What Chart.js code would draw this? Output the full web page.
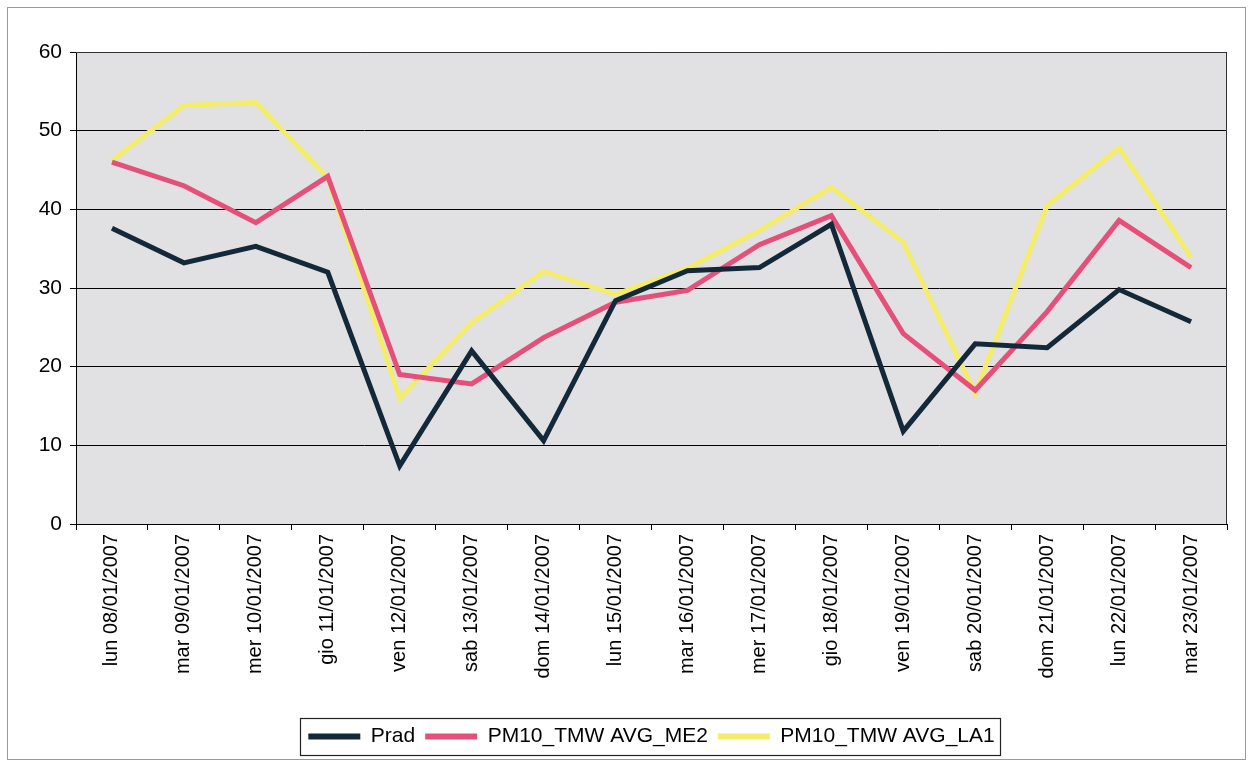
<!DOCTYPE html>
<html>
<head>
<meta charset="utf-8">
<script src="https://cdn.jsdelivr.net/npm/chart.js@4/dist/chart.umd.min.js"></script>
<style>
  html, body { margin: 0; padding: 0; background: #ffffff; }
  #wrap { width: 1255px; height: 765px; position: relative; }
</style>
</head>
<body>
<div id="wrap"><canvas id="c" width="1255" height="765"></canvas></div>
<script>
const categories = [
  "lun 08/01/2007", "mar 09/01/2007", "mer 10/01/2007", "gio 11/01/2007",
  "ven 12/01/2007", "sab 13/01/2007", "dom 14/01/2007", "lun 15/01/2007",
  "mar 16/01/2007", "mer 17/01/2007", "gio 18/01/2007", "ven 19/01/2007",
  "sab 20/01/2007", "dom 21/01/2007", "lun 22/01/2007", "mar 23/01/2007"
];
const prad = [37.6, 33.2, 35.3, 32.0, 7.4, 22.0, 10.6, 28.4, 32.2, 32.6, 38.1, 11.8, 22.9, 22.4, 29.8, 25.7];
const me2  = [46.0, 43.0, 38.3, 44.2, 19.0, 17.8, 23.7, 28.2, 29.7, 35.5, 39.2, 24.2, 17.0, 27.0, 38.6, 32.6];
const la1  = [46.2, 53.2, 53.6, 44.0, 16.0, 25.6, 32.1, 29.2, 32.5, 37.3, 42.8, 35.8, 16.6, 40.5, 47.8, 33.9];
const seriesNames = ["Prad", "PM10_TMW AVG_ME2", "PM10_TMW AVG_LA1"];
const seriesColors = ["#13293a", "#e4507a", "#f4ec6c"];
const yTicks = { min: 0, max: 60, step: 10 };

const FONT = "'Liberation Sans', Arial, sans-serif";

const decor = {
  id: 'decor',
  beforeDraw(chart) {
    const { ctx, chartArea: a } = chart;
    ctx.save();
    ctx.fillStyle = '#e1e0e3';
    ctx.fillRect(a.left, a.top, a.right - a.left, a.bottom - a.top);
    ctx.strokeStyle = '#9a9a9a';
    ctx.lineWidth = 1;
    ctx.strokeRect(7.5, 7.5, 1238, 752);
    ctx.restore();
  },
  afterDatasetsDraw(chart) {
    const { ctx, chartArea: a } = chart;
    ctx.save();
    ctx.strokeStyle = '#333';
    ctx.lineWidth = 1;
    ctx.beginPath();
    ctx.moveTo(a.left, a.top + 0.5);
    ctx.lineTo(a.right - 0.5, a.top + 0.5);
    ctx.lineTo(a.right - 0.5, a.bottom);
    ctx.stroke();
    ctx.restore();
  },
  afterDraw(chart) {
    const lg = chart.legend;
    if (!lg || !lg.legendHitBoxes || !lg.legendHitBoxes.length) return;
    const hb = lg.legendHitBoxes;
    const left = hb[0].left - 8;
    const right = hb[hb.length - 1].left + hb[hb.length - 1].width + 6;
    const top = Math.min(...hb.map(h => h.top)) - 8;
    const bottom = Math.max(...hb.map(h => h.top + h.height)) + 8;
    const ctx = chart.ctx;
    ctx.save();
    ctx.strokeStyle = '#222';
    ctx.lineWidth = 1.2;
    ctx.strokeRect(Math.round(left) + 0.5, Math.round(top) + 0.5, Math.round(right - left), Math.round(bottom - top));
    ctx.restore();
  }
};

const datasets = [prad, me2, la1].map((d, i) => ({
  label: seriesNames[i],
  data: d,
  borderColor: seriesColors[i],
  backgroundColor: seriesColors[i],
  borderWidth: 5,
  pointRadius: 0,
  tension: 0,
  fill: false
}));

new Chart(document.getElementById('c'), {
  type: 'line',
  data: { labels: categories, datasets },
  options: {
    responsive: false,
    animation: false,
    devicePixelRatio: 1,
    layout: { padding: { top: 52, left: 10, right: 28, bottom: 8 } },
    plugins: {
      tooltip: { enabled: false },
      legend: {
        position: 'bottom',
        fullSize: false,
        labels: {
          color: '#000',
          font: { family: FONT, size: 21 },
          boxWidth: 52,
          boxHeight: 6,
          padding: 10,
          generateLabels(chart) {
            const items = Chart.defaults.plugins.legend.labels.generateLabels(chart);
            items.forEach(it => { it.lineWidth = 0; });
            return items;
          }
        }
      }
    },
    scales: {
      x: {
        offset: true,
        afterFit(scale) { scale.height = 192; },
        grid: { display: true, drawOnChartArea: false, offset: true, color: '#000', tickLength: 6 },
        border: { display: true, color: '#000', width: 1 },
        ticks: {
          color: '#000',
          font: { family: FONT, size: 20 },
          minRotation: 90,
          maxRotation: 90,
          autoSkip: false,
          padding: 4
        }
      },
      y: {
        min: yTicks.min,
        max: yTicks.max,
        afterFit(scale) { scale.width = 66; },
        grid: { color: '#000', lineWidth: 1, tickLength: 6 },
        border: { display: true, color: '#000', width: 1 },
        ticks: {
          stepSize: yTicks.step,
          color: '#000',
          font: { family: FONT, size: 21 },
          padding: 8
        }
      }
    }
  },
  plugins: [decor]
});
</script>
</body>
</html>
